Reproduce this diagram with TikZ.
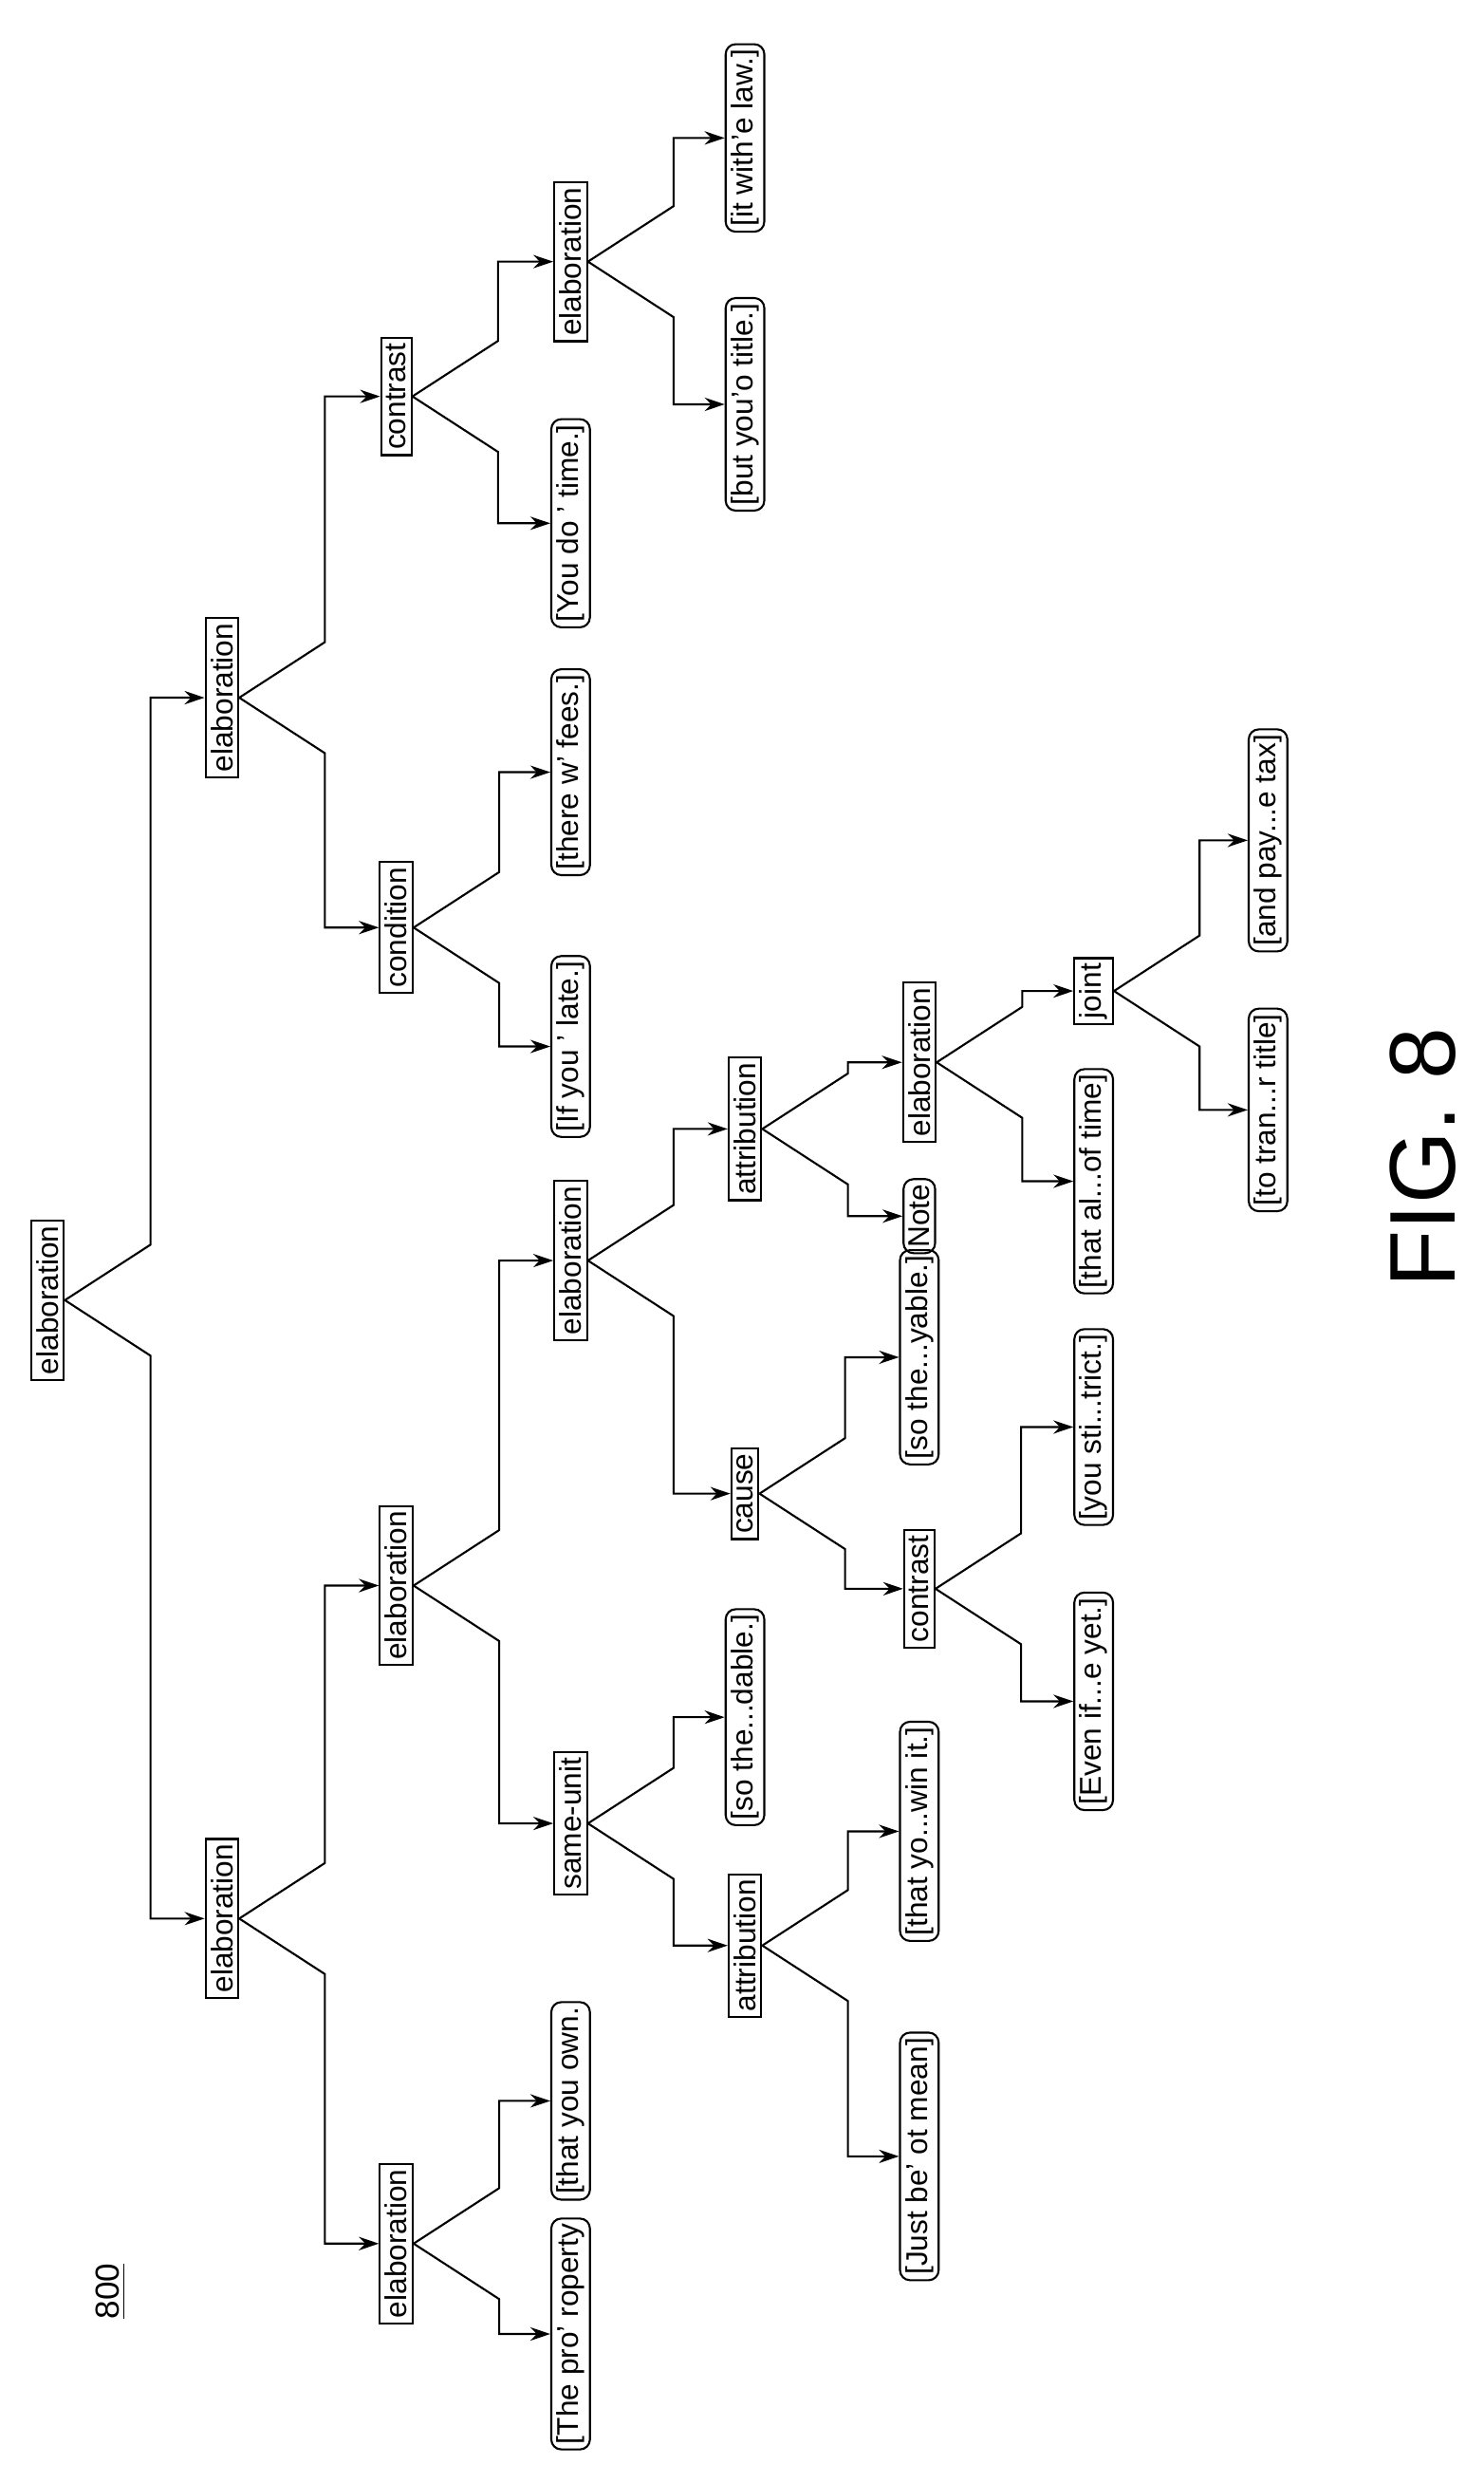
\documentclass[tikz,border=0pt]{standalone}
\usepackage{fontspec}
\setmainfont{Liberation Sans}
\usetikzlibrary{calc,arrows.meta}
\begin{document}
\begin{tikzpicture}[x=0.01671cm,y=-0.01671cm,
 box/.style={draw,line width=0.6pt,rotate=90,inner sep=1.6pt,font=\fontsize{9}{10}\selectfont},
 leaf/.style={box,rounded corners=3pt},
 conn/.style={line width=0.6pt,-{Stealth[length=6pt,width=4pt]}}]
\useasboundingbox (0,0) rectangle (936,1566);
\newcommand\edg[3]{\draw[conn] (#1.south) -- ($(#1.south)+(54,#3)$) |- (#2.north);}
\node[box] (r) at (30,820) {elaboration};
\node[box] (L) at (140,1210) {elaboration};
\node[box] (R) at (140,440) {elaboration};
\node[box] (LL) at (250,1415) {elaboration};
\node[box] (LR) at (250,1000) {elaboration};
\node[box] (cond) at (250,585) {condition};
\node[box] (contr) at (250,250) {contrast};
\node[leaf] (a1) at (360,1472) {[The pro' roperty};
\node[leaf] (a2) at (360,1325) {[that you own.};
\node[box] (su) at (360,1150) {same-unit};
\node[box] (e3) at (360,795) {elaboration};
\node[leaf] (a3) at (360,660) {[If you ' late.]};
\node[leaf] (a4) at (360,487) {[there w' fees.]};
\node[leaf] (a5) at (360,330) {[You do ' time.]};
\node[box] (e4) at (360,165) {elaboration};
\node[box] (at1) at (470,1227) {attribution};
\node[leaf] (b1) at (470,1083) {[so the...dable.]};
\node[box] (cause) at (470,942) {cause};
\node[box] (at2) at (470,712) {attribution};
\node[leaf] (b2) at (470,255) {[but you'o title.]};
\node[leaf] (b3) at (470,87) {[it with'e law.]};
\node[leaf] (c1) at (580,1360) {[Just be' ot mean]};
\node[leaf] (c2) at (580,1155) {[that yo...win it.]};
\node[box] (ct2) at (580,1002) {contrast};
\node[leaf] (c3) at (580,856) {[so the...yable.]};
\node[leaf] (note) at (580,767) {Note};
\node[box] (e5) at (580,670) {elaboration};
\node[leaf] (d1) at (690,1073) {[Even if...e yet.]};
\node[leaf] (d2) at (690,900) {[you sti...trict.]};
\node[leaf] (d3) at (690,745) {[that al...of time]};
\node[box] (joint) at (690,625) {joint};
\node[leaf] (f1) at (800,700) {[to tran...r title]};
\node[leaf] (f2) at (800,530) {[and pay...e tax]};
\edg{r}{L}{35}\edg{r}{R}{-35}
\edg{L}{LL}{35}\edg{L}{LR}{-35}
\edg{R}{cond}{35}\edg{R}{contr}{-35}
\edg{LL}{a1}{35}\edg{LL}{a2}{-35}
\edg{LR}{su}{35}\edg{LR}{e3}{-35}
\edg{cond}{a3}{35}\edg{cond}{a4}{-35}
\edg{contr}{a5}{35}\edg{contr}{e4}{-35}
\edg{su}{at1}{35}\edg{su}{b1}{-35}
\edg{e3}{cause}{35}\edg{e3}{at2}{-35}
\edg{e4}{b2}{35}\edg{e4}{b3}{-35}
\edg{at1}{c1}{35}\edg{at1}{c2}{-35}
\edg{cause}{ct2}{35}\edg{cause}{c3}{-35}
\edg{at2}{note}{35}\edg{at2}{e5}{-35}
\edg{ct2}{d1}{35}\edg{ct2}{d2}{-35}
\edg{e5}{d3}{35}\edg{e5}{joint}{-35}
\edg{joint}{f1}{35}\edg{joint}{f2}{-35}
\node[rotate=90,font=\fontsize{10}{12}\selectfont] (lbl) at (70,1445) {\underline{800}};
\node[rotate=90,font=\fontsize{28}{32}\selectfont] (fig) at (898,730) {FIG. 8};
\end{tikzpicture}
\end{document}
